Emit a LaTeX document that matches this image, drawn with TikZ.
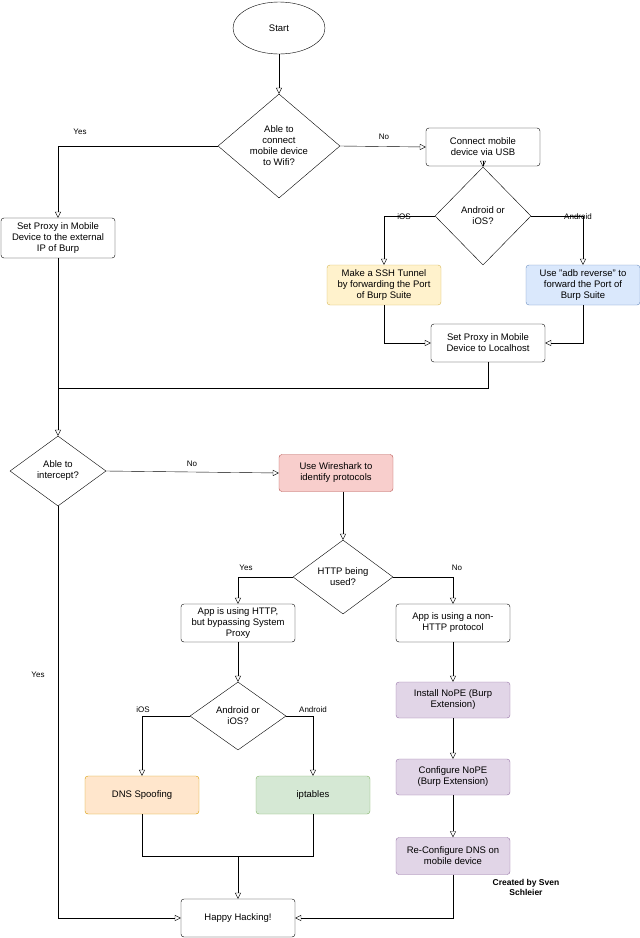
\documentclass[tikz,border=0pt]{standalone}
\usepackage{fontspec}
\setmainfont{Liberation Sans}
\usetikzlibrary{shapes.geometric,arrows.meta}
\definecolor{yf}{HTML}{FFF2CC}\definecolor{ys}{HTML}{D6B656}
\definecolor{bf}{HTML}{DAE8FC}\definecolor{bs}{HTML}{6C8EBF}
\definecolor{rf}{HTML}{F8CECC}\definecolor{rs}{HTML}{B85450}
\definecolor{of}{HTML}{FFE6CC}\definecolor{os}{HTML}{D79B00}
\definecolor{gf}{HTML}{D5E8D4}\definecolor{gs}{HTML}{82B366}
\definecolor{pf}{HTML}{E1D5E7}\definecolor{ps}{HTML}{9673A6}
\begin{document}
\begin{tikzpicture}[x=1pt,y=-1pt,
  every node/.style={font=\fontsize{9.5}{11}\selectfont},
  box/.style={draw,rounded corners=3pt,minimum width=114pt,minimum height=38pt,align=center,inner sep=1pt},
  dia/.style={draw,diamond,aspect=1.2,align=center,inner sep=0pt},
  lbl/.style={font=\fontsize{8}{9}\selectfont},
  arr/.style={-{Triangle[open,length=6pt,width=6pt]}}]
\useasboundingbox (0,0) rectangle (640,938);
\node[draw,ellipse,minimum width=92pt,minimum height=52pt] (start) at (279,28) {Start};
\node[dia,minimum width=122pt,minimum height=104pt] (d1) at (279,146) {Able to\\connect\\mobile device\\to Wifi?};
\node[box] (usb) at (483,147) {Connect mobile\\device via USB};
\node[dia,minimum width=96pt,minimum height=98pt] (d2) at (483,216) {Android or\\iOS?};
\node[box,fill=yf,draw=ys,minimum height=40pt] (ssh) at (384,285) {Make a SSH Tunnel\\by forwarding the Port\\of Burp Suite};
\node[box,fill=bf,draw=bs,minimum height=40pt] (adb) at (583,285) {Use "adb reverse" to\\forward the Port of\\Burp Suite};
\node[box] (loc) at (488,343) {Set Proxy in Mobile\\Device to Localhost};
\node[box,minimum height=40pt] (ext) at (58,238) {Set Proxy in Mobile\\Device to the external\\IP of Burp};
\node[dia,minimum width=96pt,minimum height=70pt] (d3) at (58,471) {Able to\\intercept?};
\node[box,fill=rf,draw=rs,minimum height=37pt] (wire) at (336,473) {Use Wireshark to\\identify protocols};
\node[dia,minimum width=100pt,minimum height=74pt] (d4) at (343,577) {HTTP being\\used?};
\node[box] (http) at (238,623) {App is using HTTP,\\but bypassing System\\Proxy};
\node[box] (non) at (453,623) {App is using a non-\\HTTP protocol};
\node[dia,minimum width=96pt,minimum height=68pt] (d5) at (238,716) {Android or\\iOS?};
\node[box,fill=of,draw=os] (dns) at (142,795) {DNS Spoofing};
\node[box,fill=gf,draw=gs] (ipt) at (313,795) {iptables};
\node[box,fill=pf,draw=ps,minimum height=36pt] (inst) at (453,700) {Install NoPE (Burp\\Extension)};
\node[box,fill=pf,draw=ps,minimum height=36pt] (conf) at (453,777) {Configure NoPE\\(Burp Extension)};
\node[box,fill=pf,draw=ps,minimum height=37pt] (rec) at (453,856) {Re-Configure DNS on\\mobile device};
\node[box] (happy) at (238,918) {Happy Hacking!};
\node[align=center,font=\bfseries\fontsize{8.5}{10}\selectfont] (cred) at (526,887) {Created by Sven\\Schleier};
\node[lbl] (ly1) at (80,132) {Yes};
\node[lbl] (ln1) at (384,137) {No};
\node[lbl] (li1) at (404,217) {iOS};
\node[lbl] (la1) at (578,217) {Android};
\node[lbl] (ln3) at (192,464) {No};
\node[lbl] (ly3) at (38,675) {Yes};
\node[lbl] (ly4) at (246,568) {Yes};
\node[lbl] (ln4) at (457,568) {No};
\node[lbl] (li5) at (143,710) {iOS};
\node[lbl] (la5) at (313,710) {Android};
\coordinate (j1) at (58,388);
\coordinate (j2) at (238,856);
\draw[arr] (start) -- (d1);
\draw[arr] (d1.west) -| (ext.north);
\draw[arr] (d1.east) -- (usb.west);
\draw[arr] (usb) -- (d2);
\draw[arr] (d2.west) -| (ssh.north);
\draw[arr] (d2.east) -| (adb.north);
\draw[arr] (ssh.south) |- (loc.west);
\draw[arr] (adb.south) |- (loc.east);
\draw (loc.south) |- (j1);
\draw (ext.south) -- (j1);
\draw[arr] (j1) -- (d3.north);
\draw[arr] (d3.east) -- (wire.west);
\draw[arr] (wire.south -| d4.north) -- (d4.north);
\draw[arr] (d4.west) -| (http.north);
\draw[arr] (d4.east) -| (non.north);
\draw[arr] (http) -- (d5);
\draw[arr] (d5.west) -| (dns.north);
\draw[arr] (d5.east) -| (ipt.north);
\draw (dns.south) |- (j2);
\draw (ipt.south) |- (j2);
\draw[arr] (j2) -- (happy.north);
\draw[arr] (non) -- (inst);
\draw[arr] (inst) -- (conf);
\draw[arr] (conf) -- (rec);
\draw[arr] (rec.south) |- (happy.east);
\draw[arr] (d3.south) |- (happy.west);
\end{tikzpicture}
\end{document}
